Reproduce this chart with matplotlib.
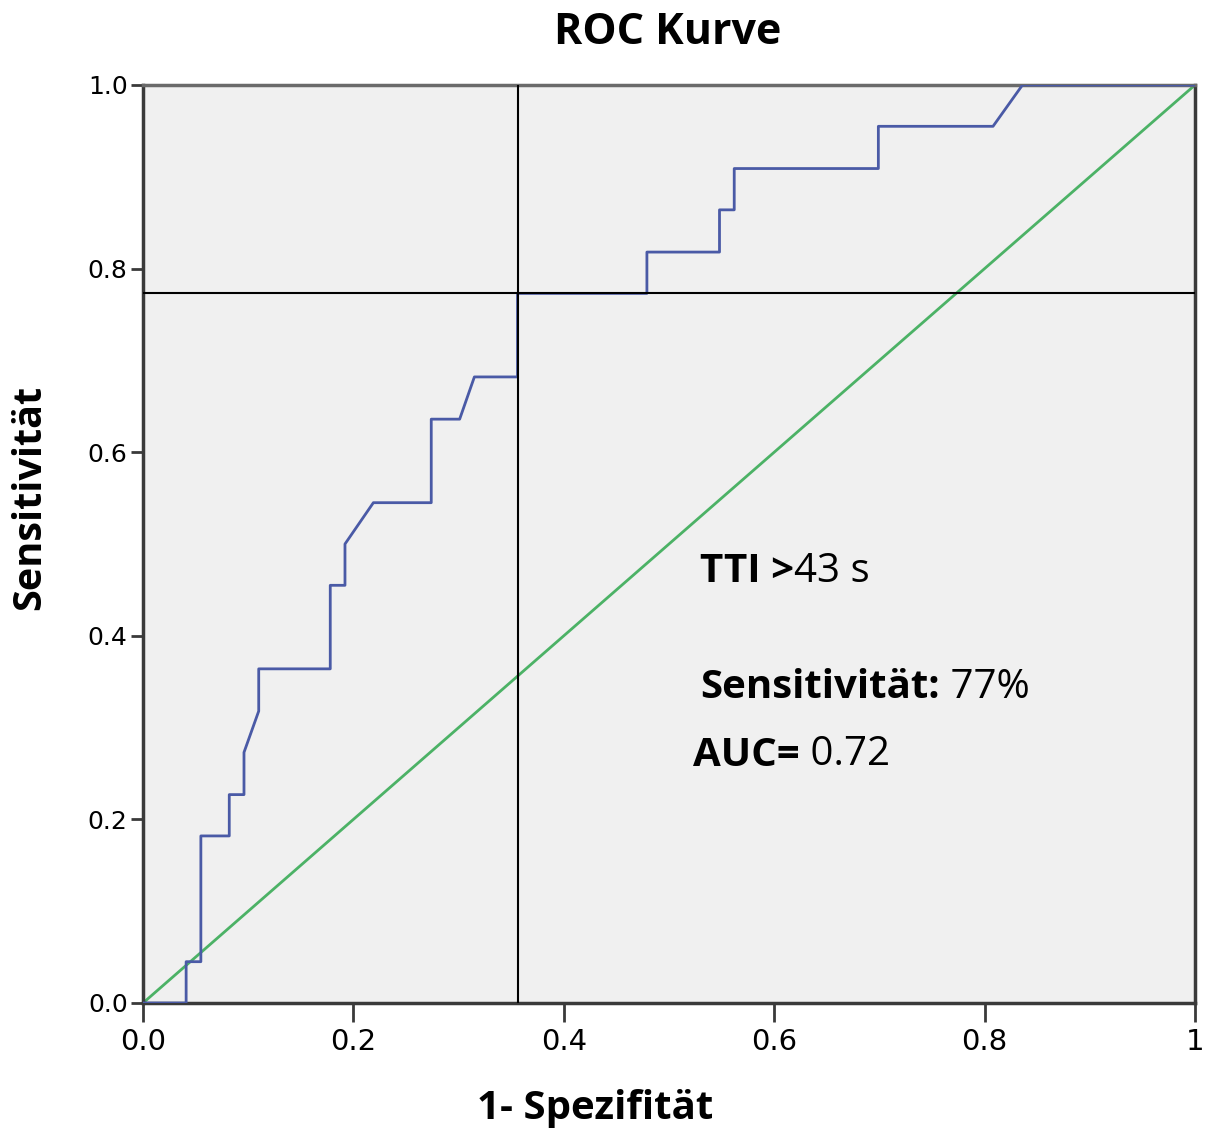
import matplotlib
matplotlib.use('Agg')
import matplotlib.pyplot as plt

# ROC curve (1 - specificity, sensitivity)
fpr = [0.0, 0.041, 0.041, 0.055, 0.055, 0.082, 0.082, 0.096, 0.096, 0.110, 0.110,
       0.178, 0.178, 0.192, 0.192, 0.219, 0.274, 0.274, 0.301, 0.315, 0.356, 0.356,
       0.479, 0.479, 0.548, 0.548, 0.562, 0.562, 0.699, 0.699, 0.808, 0.836, 1.0]
tpr = [0.0, 0.0, 0.045, 0.045, 0.182, 0.182, 0.227, 0.227, 0.273, 0.318, 0.364,
       0.364, 0.455, 0.455, 0.500, 0.545, 0.545, 0.636, 0.636, 0.682, 0.682, 0.773,
       0.773, 0.818, 0.818, 0.864, 0.864, 0.909, 0.909, 0.955, 0.955, 1.0, 1.0]
cut_fpr = 0.356
cut_tpr = 0.773

xticks = [0.0, 0.2, 0.4, 0.6, 0.8, 1.0]
xtick_labels = ['0.0', '0.2', '0.4', '0.6', '0.8', '1']
yticks = [0.0, 0.2, 0.4, 0.6, 0.8, 1.0]
ytick_labels = ['0.0', '0.2', '0.4', '0.6', '0.8', '1.0']

FONT = 'Open Sans'

fig = plt.figure(figsize=(12.11, 11.30), dpi=100)
ax = fig.add_axes([143/1211, 1 - 1003/1130, (1195-143)/1211, (1003-85)/1130])
ax.set_facecolor('#f0f0f0')

ax.plot([0, 1], [0, 1], color='#4cb266', lw=2, zorder=2)
ax.plot(fpr, tpr, color='#4a5aa6', lw=2, zorder=3)
ax.axvline(cut_fpr, color='black', lw=1.5, zorder=4)
ax.axhline(cut_tpr, color='black', lw=1.5, zorder=4)

ax.set_xlim(0, 1)
ax.set_ylim(0, 1)
for s in ax.spines.values():
    s.set_linewidth(2.5)
    s.set_color('#3a3a3a')
ax.spines['top'].set_color('#6a6a6a')

ax.set_xticks(xticks)
ax.set_xticklabels(xtick_labels, family=['Liberation Sans Narrow', 'DejaVu Sans'], fontsize=21)
ax.set_yticks(yticks)
ax.set_yticklabels(ytick_labels, family='DejaVu Sans', fontsize=18)
ax.tick_params(axis='x', direction='out', length=14, width=2, color='#3a3a3a', pad=4)
ax.tick_params(axis='y', direction='out', length=9, width=2, color='#3a3a3a', pad=2)

fig.text(668/1211, 1 - 33/1130, 'ROC Kurve', ha='center', va='center',
         family=FONT, fontweight='bold', fontsize=31)
fig.text(595/1211, 1 - 1108/1130, '1- Spezifität', ha='center', va='center',
         family=FONT, fontweight='bold', fontsize=29)
fig.text(30/1211, 1 - 497/1130, 'Sensitivität', ha='center', va='center', rotation=90,
         family=FONT, fontweight='bold', fontsize=28.5)

renderer = fig.canvas.get_renderer()


def two_part(x, y, bold, rest, size=29):
    t = fig.text(x/1211, 1 - y/1130, bold, ha='left', va='center',
                 family=FONT, fontweight='bold', fontsize=size)
    bb = t.get_window_extent(renderer=renderer)
    fig.text(bb.x1/1211, 1 - y/1130, rest, ha='left', va='center',
             family=FONT, fontsize=size)


two_part(700, 572, 'TTI >', '43 s')
two_part(700, 688, 'Sensitivität:', ' 77%')
two_part(693, 755, 'AUC=', ' 0.72')

fig.savefig('out.png', dpi=100)
